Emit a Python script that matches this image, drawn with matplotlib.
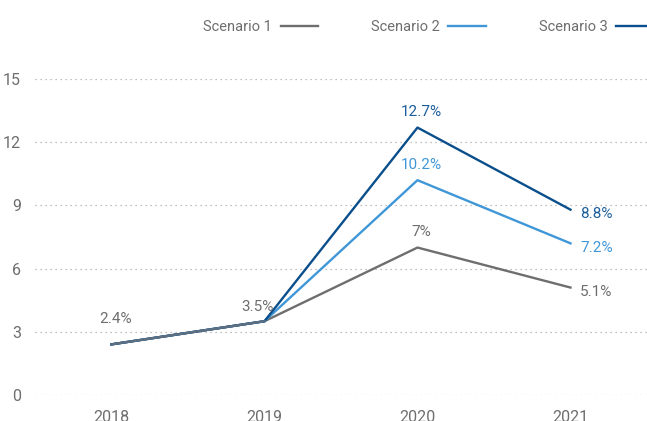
import matplotlib
matplotlib.use('Agg')
import matplotlib.pyplot as plt
import numpy as np

years = ['2018', '2019', '2020', '2021']
scenario_1 = [2.4, 3.5, 7.0, 5.1]
scenario_2 = [2.4, 3.5, 10.2, 7.2]
scenario_3 = [2.4, 3.5, 12.7, 8.8]
labels_1 = ['2.4%', '3.5%', '7%', '5.1%']
labels_2 = ['', '', '10.2%', '7.2%']
labels_3 = ['', '', '12.7%', '8.8%']
yticks = [0, 3, 6, 9, 12, 15]


def main():
	plt.rcParams['font.family'] = ['Roboto', 'DejaVu Sans']

	gray = '#6e6e6e'
	light = '#3f97d8'
	dark = '#0a4f8c'
	dark_txt = '#1c5f9c'

	fig = plt.figure(figsize=(6.47, 4.21), dpi=100)
	ax = fig.add_axes([0.054, 0.062, 0.946, 0.750])

	x = np.arange(len(years))
	ax.plot(x, scenario_1, color=gray, lw=1.7, label='Scenario 1', zorder=3)
	ax.plot(x, scenario_2, color=light, lw=1.7, label='Scenario 2', zorder=3)
	ax.plot(x, scenario_3, color=dark, lw=1.7, label='Scenario 3', zorder=3)
	# shared early segment drawn on top in a blended gray-blue
	ax.plot(x[:2], scenario_1[:2], color='#5f6f80', lw=1.7, zorder=4)

	ax.set_xlim(-0.5, 3.5)
	ax.set_ylim(0, 15)
	ax.set_xticks(x)
	ax.set_xticklabels(years)
	ax.set_yticks(yticks)
	ax.tick_params(length=0, labelsize=11.5, colors=gray)
	ax.tick_params(axis='x', pad=11)
	ax.tick_params(axis='y', pad=10)
	for s in ax.spines.values():
		s.set_visible(False)
	ax.grid(axis='y', linestyle=(0, (1, 3)), color='#aaaaaa', lw=0.9)
	ax.set_axisbelow(True)

	fs = 11
	# labels at 2018 and 2019 above the point
	ax.annotate(labels_1[0], (x[0], scenario_1[0]), xytext=(3, 13), textcoords='offset points',
		ha='center', va='bottom', color=gray, fontsize=fs)
	ax.annotate(labels_1[1], (x[1], scenario_1[1]), xytext=(-5, 5), textcoords='offset points',
		ha='center', va='bottom', color=gray, fontsize=fs)
	# peak labels in 2020 and end labels in 2021
	for vals, labs, c in [(scenario_1, labels_1, gray), (scenario_2, labels_2, light), (scenario_3, labels_3, dark_txt)]:
		ax.annotate(labs[2], (x[2], vals[2]), xytext=(3, 6), textcoords='offset points',
			ha='center', va='bottom', color=c, fontsize=fs)
		ax.annotate(labs[3], (x[3], vals[3]), xytext=(7, -3), textcoords='offset points',
			ha='left', va='center', color=c, fontsize=fs)

	fig.legend(loc='upper right', bbox_to_anchor=(1.043, 1.0), ncol=3, frameon=False,
		markerfirst=False, fontsize=10.5, labelcolor=gray, handlelength=2.6,
		handletextpad=0.6, columnspacing=3.6, borderaxespad=1.0)

	fig.savefig('out.png', dpi=100)


if __name__ == '__main__':
	main()
